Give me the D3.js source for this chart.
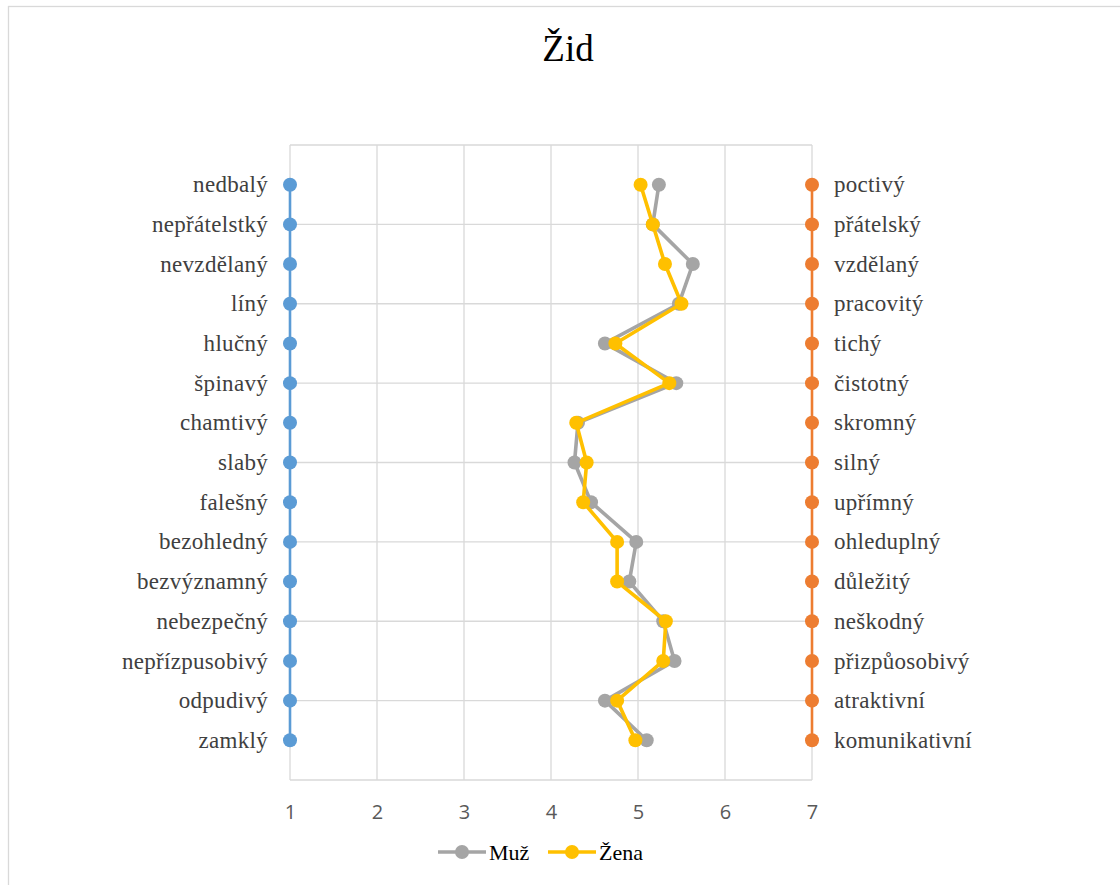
<!DOCTYPE html>
<html>
<head>
<meta charset="utf-8">
<script src="https://cdn.jsdelivr.net/npm/d3@7"></script>
<style>
  html, body { margin: 0; padding: 0; background: #fff; }
  svg { display: block; }
</style>
</head>
<body>
<svg id="chart" width="1120" height="885"></svg>
<script>
// Semantic differential: negative poles (left, score 1) vs positive poles (right, score 7)
const leftLabels = ["nedbalý", "nepřátelstký", "nevzdělaný", "líný", "hlučný", "špinavý", "chamtivý",
  "slabý", "falešný", "bezohledný", "bezvýznamný", "nebezpečný", "nepřízpusobivý", "odpudivý", "zamklý"];
const rightLabels = ["poctivý", "přátelský", "vzdělaný", "pracovitý", "tichý", "čistotný", "skromný",
  "silný", "upřímný", "ohleduplný", "důležitý", "neškodný", "přizpůosobivý", "atraktivní", "komunikativní"];
// Row positions (top row = 15, bottom row = 1)
const rowPos = [15, 14, 13, 12, 11, 10, 9, 8, 7, 6, 5, 4, 3, 2, 1];
// Mean ratings per row
const muz = [5.24, 5.17, 5.63, 5.47, 4.62, 5.44, 4.31, 4.27, 4.46, 4.98, 4.90, 5.29, 5.42, 4.62, 5.10];
const zena = [5.03, 5.17, 5.31, 5.50, 4.74, 5.36, 4.29, 4.41, 4.37, 4.76, 4.76, 5.32, 5.29, 4.76, 4.97];
const xTicks = [1, 2, 3, 4, 5, 6, 7];
const yGrid = [0, 2, 4, 6, 8, 10, 12, 14, 16];
const seriesNames = ["Muž", "Žena"];

const svg = d3.select("#chart");
const x = d3.scaleLinear().domain([1, 7]).range([290, 812]);
const y = d3.scaleLinear().domain([0, 16]).range([780, 145]);

const serif = "'Liberation Serif', 'Times New Roman', serif";
const sans = "'Open Sans', 'Noto Sans', sans-serif";

// Chart frame
svg.append("rect").attr("x", 8.5).attr("y", 6.5).attr("width", 1130).attr("height", 900)
  .attr("fill", "#fff").attr("stroke", "#d9d9d9").attr("stroke-width", 1.3);

// Title
svg.append("text").attr("x", 568).attr("y", 61).attr("text-anchor", "middle")
  .attr("font-family", serif).attr("font-size", 37).attr("fill", "#000").text("Žid");

// Gridlines
const grid = svg.append("g").attr("stroke", "#d9d9d9").attr("stroke-width", 1.3);
grid.selectAll("line.v").data(xTicks).join("line")
  .attr("x1", d => x(d)).attr("x2", d => x(d)).attr("y1", y(16)).attr("y2", y(0));
grid.selectAll("line.h").data(yGrid).join("line")
  .attr("x1", x(1)).attr("x2", x(7)).attr("y1", d => y(d)).attr("y2", d => y(d));

// Bottom axis labels
const xAxis = d3.axisBottom(x).tickValues(xTicks).tickSize(0).tickPadding(25).tickFormat(d3.format("d"));
const gx = svg.append("g").attr("transform", `translate(0,${y(0)})`).call(xAxis);
gx.select(".domain").remove();
gx.selectAll("text").attr("font-family", sans).attr("font-size", 20).attr("fill", "#595959");

// Left and right pole series
function poleSeries(xv, color, labels, anchor, dx) {
  const pts = rowPos.map((r, i) => ({ x: xv, y: r, label: labels[i] }));
  const g = svg.append("g");
  g.append("path").datum(pts)
    .attr("d", d3.line().x(d => x(d.x)).y(d => y(d.y)))
    .attr("fill", "none").attr("stroke", color).attr("stroke-width", 2.6);
  g.selectAll("circle").data(pts).join("circle")
    .attr("cx", d => x(d.x)).attr("cy", d => y(d.y)).attr("r", 7).attr("fill", color);
  g.selectAll("text").data(pts).join("text")
    .attr("x", d => x(d.x) + dx).attr("y", d => y(d.y)).attr("dy", "0.33em")
    .attr("text-anchor", anchor).attr("font-family", serif).attr("font-size", 23)
    .attr("letter-spacing", 0.3)
    .attr("fill", "#404040").text(d => d.label);
}
poleSeries(1, "#5B9BD5", leftLabels, "end", -22);
poleSeries(7, "#ED7D31", rightLabels, "start", 22);

// Rating series
function ratingSeries(vals, color) {
  const pts = vals.map((v, i) => ({ x: v, y: rowPos[i] }));
  const g = svg.append("g");
  g.append("path").datum(pts)
    .attr("d", d3.line().x(d => x(d.x)).y(d => y(d.y)))
    .attr("fill", "none").attr("stroke", color).attr("stroke-width", 3.6)
    .attr("stroke-linejoin", "round");
  g.selectAll("circle").data(pts).join("circle")
    .attr("cx", d => x(d.x)).attr("cy", d => y(d.y)).attr("r", 7).attr("fill", color);
}
ratingSeries(muz, "#A5A5A5");
ratingSeries(zena, "#FFC000");

// Legend
const legendItems = [
  { name: seriesNames[0], color: "#A5A5A5", x0: 438 },
  { name: seriesNames[1], color: "#FFC000", x0: 548 }
];
const lg = svg.append("g");
legendItems.forEach(it => {
  lg.append("line").attr("x1", it.x0).attr("x2", it.x0 + 48).attr("y1", 852).attr("y2", 852)
    .attr("stroke", it.color).attr("stroke-width", 3.6);
  lg.append("circle").attr("cx", it.x0 + 24).attr("cy", 852).attr("r", 7).attr("fill", it.color);
  lg.append("text").attr("x", it.x0 + 51).attr("y", 852).attr("dy", "0.35em")
    .attr("font-family", serif).attr("font-size", 22).attr("fill", "#000").text(it.name);
});
</script>
</body>
</html>
